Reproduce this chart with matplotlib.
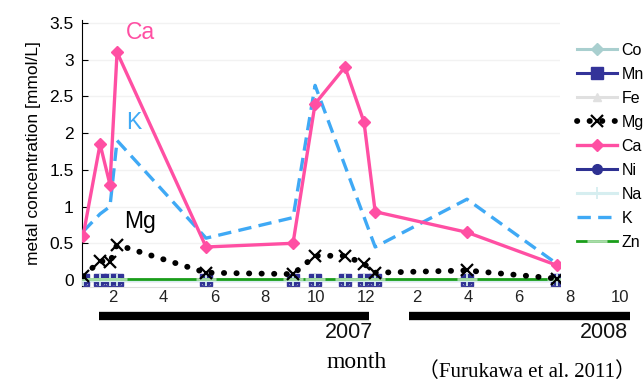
import matplotlib
matplotlib.use("Agg")
import matplotlib.pyplot as plt
import matplotlib.transforms as mtransforms

plt.rcParams["font.family"] = ["Liberation Sans", "DejaVu Sans"]

# sampling dates, in months counted from Jan 2007 (13 = Jan 2008)
fechas = [0.82, 1.49, 1.88, 2.16, 5.67, 9.10, 9.97, 11.15, 11.90, 12.34, 15.96, 19.51]

ca = [0.60, 1.85, 1.30, 3.10, 0.45, 0.50, 2.40, 2.90, 2.15, 0.93, 0.65, 0.20]
mg = [0.05, 0.26, 0.24, 0.48, 0.10, 0.08, 0.33, 0.33, 0.22, 0.10, 0.13, 0.02]
# K was not measured on two of the dates
fechas_k = [0.82, 1.49, 1.88, 2.16, 5.67, 9.10, 9.97, 12.34, 15.96, 19.51]
k = [0.66, 0.90, 1.00, 1.90, 0.57, 0.85, 2.65, 0.45, 1.10, 0.22]
co = [0.0] * 12
mn = [0.0] * 12
fe = [0.0] * 12
ni = [0.0] * 12
na = [0.0] * 12
zn = [0.01] * 12

y_ticks = [0, 0.5, 1, 1.5, 2, 2.5, 3, 3.5]
y_labels = ["0", "0.5", "1", "1.5", "2", "2.5", "3", "3.5"]
mes_pos = [2, 4, 6, 8, 10, 12, 14, 16, 18, 20, 22]
mes_labels = ["2", "4", "6", "8", "10", "12", "2", "4", "6", "8", "10"]
anios = ["2007", "2008"]
anio_ini = [1.45, 13.68]
anio_fin = [12.10, 22.40]

fig = plt.figure(figsize=(6.43, 3.83), dpi=100)
ax = fig.add_axes([82 / 643, 1 - 287 / 383, (560 - 82) / 643, (287 - 20) / 383])

# trace metals, all near zero
ax.plot(fechas, co, color="#a9cfcf", lw=2.2, marker="D", ms=6, label="Co", zorder=2)
ax.plot(fechas, mn, color="#333399", lw=2.2, marker="s", ms=8.5, label="Mn", zorder=2)
ax.plot(fechas, fe, color="#e0e0e0", lw=2.2, marker="^", ms=6, label="Fe", zorder=2)
ax.plot(fechas, mg, color="black", lw=4.2, ls=(0, (0.05, 2.1)), dash_capstyle="round",
        marker="x", ms=8, mew=1.6, label="Mg", zorder=4)
ax.plot(fechas, ca, color="#ff4fa3", lw=2.4, marker="D", ms=6.5, label="Ca", zorder=5)
ax.plot(fechas, ni, color="#2e3192", lw=2.2, marker="o", ms=7, label="Ni", zorder=2)
ax.plot(fechas, na, color="#d6eef0", lw=2.2, marker="+", ms=8, mew=1.3, label="Na", zorder=3)
ax.plot(fechas_k, k, color="#3fa9f5", lw=2.4, ls=(0, (4, 2.2)), label="K", zorder=4)
ax.plot(fechas, zn, color="#1a9e1a", lw=2, marker="_", ms=14, mec="#a8dca8", mew=2,
        label="Zn", zorder=3)

ax.set_xlim(0.777, 19.63)
ax.set_ylim(-0.095, 3.54)
ax.set_xticks([])
ax.set_yticks(y_ticks)
ax.set_yticklabels(y_labels, fontsize=12.5)
ax.tick_params(axis="y", direction="in", length=4, pad=6)
ax.grid(axis="y", color="#f2f2f2", lw=1)
ax.set_axisbelow(True)
for s in ["top", "right"]:
    ax.spines[s].set_visible(False)
ax.spines["bottom"].set_color("#dddddd")
ax.set_ylabel("metal concentration [mmol/L]", fontsize=12.5, labelpad=6)

ax.text(3.07, 3.37, "Ca", color="#ff4fa3", fontsize=16.5, ha="center", va="center")
ax.text(2.83, 2.15, "K", color="#3fa9f5", fontsize=16.5, ha="center", va="center")
ax.text(3.07, 0.80, "Mg", color="black", fontsize=16.5, ha="center", va="center")

# month axis under the plot
tr = mtransforms.blended_transform_factory(ax.transData, fig.transFigure)
for p, lab in zip(mes_pos, mes_labels):
    ax.text(p, 1 - 297 / 383, lab, transform=tr, ha="center", va="center",
            fontsize=12, color="#222222", clip_on=False)
for a, b in zip(anio_ini, anio_fin):
    ax.plot([a, b], [1 - 316 / 383] * 2, transform=tr, color="black", lw=6,
            solid_capstyle="butt", clip_on=False)
ax.text(11.31, 1 - 332 / 383, anios[0], transform=tr, ha="center", va="center",
        fontsize=15.5, color="#111111", clip_on=False)
ax.text(22.32, 1 - 332 / 383, anios[1], transform=tr, ha="right", va="center",
        fontsize=15.5, color="#111111", clip_on=False)
ax.text(11.59, 1 - 368 / 383, "month", transform=tr, ha="center", va="baseline",
        fontsize=17, family=["Liberation Serif", "DejaVu Serif"], clip_on=False)
fig.text(636 / 643, 1 - 377 / 383, "（Furukawa et al. 2011）", ha="right", va="baseline",
         fontsize=15, family=["Liberation Serif", "Noto Sans CJK JP"])

ax.legend(loc="upper left", bbox_to_anchor=(577 / 643, 1 - 43 / 383),
          bbox_transform=fig.transFigure, frameon=False, fontsize=11.5,
          handlelength=2.5, handletextpad=0.3, labelspacing=0.56,
          borderpad=0, borderaxespad=0)

fig.savefig("out.png", dpi=100)
